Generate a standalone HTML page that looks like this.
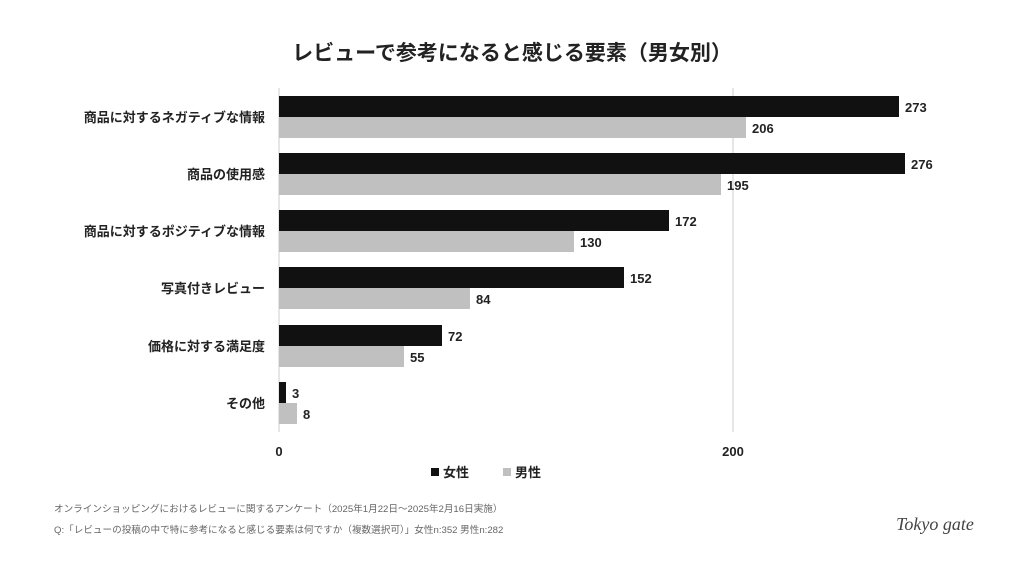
<!DOCTYPE html>
<html><head><meta charset="utf-8"><style>
body{margin:0;background:#fff}
svg{display:block}
text{font-family:"Liberation Sans","Noto Sans CJK JP",sans-serif}
</style></head><body>
<svg width="1024" height="576" viewBox="0 0 1024 576">
<rect width="1024" height="576" fill="#fff"/>
<text x="512" y="60" text-anchor="middle" font-size="21" font-weight="bold" fill="#222">レビューで参考になると感じる要素（男女別）</text>
<line x1="279" y1="88" x2="279" y2="432" stroke="#ddd" stroke-width="1.5"/>
<line x1="733" y1="88" x2="733" y2="432" stroke="#ddd" stroke-width="1.5"/>
<g font-size="13" font-weight="bold" fill="#222">
<g text-anchor="end">
<text x="265" y="122">商品に対するネガティブな情報</text>
<text x="265" y="179">商品の使用感</text>
<text x="265" y="236">商品に対するポジティブな情報</text>
<text x="265" y="293">写真付きレビュー</text>
<text x="265" y="351">価格に対する満足度</text>
<text x="265" y="408">その他</text>
</g>
<rect x="279" y="96" width="620" height="21" fill="#111"/><rect x="279" y="117" width="467" height="21" fill="#c0c0c0"/>
<text x="905" y="112">273</text><text x="752" y="133">206</text>
<rect x="279" y="153" width="626" height="21" fill="#111"/><rect x="279" y="174" width="442" height="21" fill="#c0c0c0"/>
<text x="911" y="169">276</text><text x="727" y="190">195</text>
<rect x="279" y="210" width="390" height="21" fill="#111"/><rect x="279" y="231" width="295" height="21" fill="#c0c0c0"/>
<text x="675" y="226">172</text><text x="580" y="247">130</text>
<rect x="279" y="267" width="345" height="21" fill="#111"/><rect x="279" y="288" width="191" height="21" fill="#c0c0c0"/>
<text x="630" y="283">152</text><text x="476" y="304">84</text>
<rect x="279" y="325" width="163" height="21" fill="#111"/><rect x="279" y="346" width="125" height="21" fill="#c0c0c0"/>
<text x="448" y="341">72</text><text x="410" y="362">55</text>
<rect x="279" y="382" width="7" height="21" fill="#111"/><rect x="279" y="403" width="18" height="21" fill="#c0c0c0"/>
<text x="292" y="398">3</text><text x="303" y="419">8</text>
<text x="279" y="456" text-anchor="middle">0</text>
<text x="733" y="456" text-anchor="middle">200</text>
<rect x="431" y="468" width="8" height="8" fill="#111"/><text x="443" y="477">女性</text>
<rect x="503" y="468" width="8" height="8" fill="#c0c0c0"/><text x="515" y="477">男性</text>
</g>
<g font-size="9.6" fill="#666">
<text x="54" y="512">オンラインショッピングにおけるレビューに関するアンケート（2025年1月22日〜2025年2月16日実施）</text>
<text x="54" y="533">Q:「レビューの投稿の中で特に参考になると感じる要素は何ですか（複数選択可）」女性n:352 男性n:282</text>
</g>
<text x="935" y="530" text-anchor="middle" font-size="18" font-style="italic" fill="#444" style="font-family:'Liberation Serif',serif">Tokyo gate</text>
</svg>
</body></html>
